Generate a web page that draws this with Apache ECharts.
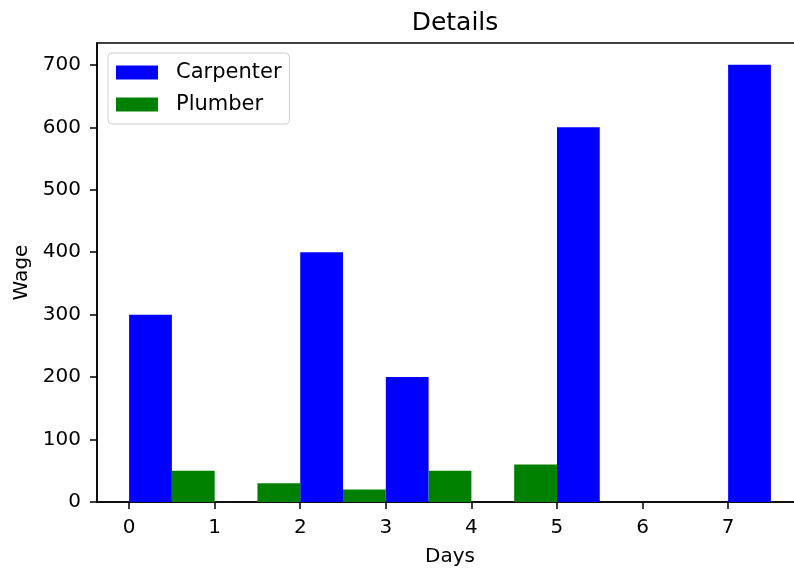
<!DOCTYPE html>
<html>
<head>
<meta charset="utf-8">
<script src="https://cdn.jsdelivr.net/npm/echarts@6/dist/echarts.min.js"></script>
<style>html,body{margin:0;padding:0;background:#fff;}#c{width:794px;height:568px;}</style>
</head>
<body>
<div id="c"></div>
<script>
// Data
const carpenterDays = [0, 2, 3, 5, 7];
const carpenterWage = [300, 400, 200, 600, 700];
const plumberDays = [0.5, 1.5, 2.5, 3.5, 4.5];
const plumberWage = [50, 30, 20, 50, 60];
const xTicks = [0, 1, 2, 3, 4, 5, 6, 7];
const yTicks = [0, 100, 200, 300, 400, 500, 600, 700];

const BAR_W = 0.5;
const FONT = 'DejaVu Sans';

function makeRender(color) {
  return function (params, api) {
    const x = api.value(0), y = api.value(1);
    const p0 = api.coord([x, y]);
    const p1 = api.coord([x + BAR_W, 0]);
    return {
      type: 'rect',
      shape: { x: p0[0], y: p0[1], width: p1[0] - p0[0], height: p1[1] - p0[1] },
      style: { fill: color }
    };
  };
}

const chart = echarts.init(document.getElementById('c'));
chart.setOption({
  animation: false,
  backgroundColor: '#fff',
  title: {
    text: 'Details',
    left: 450,
    textAlign: 'center',
    top: 6,
    textStyle: { fontFamily: FONT, fontSize: 25, fontWeight: 'normal', color: '#000' }
  },
  legend: {
    orient: 'vertical',
    left: 108,
    top: 53,
    padding: [9, 8, 9, 8],
    itemGap: 11,
    itemWidth: 42,
    itemHeight: 14,
    borderColor: '#d0d0d0',
    borderWidth: 1,
    borderRadius: 4,
    backgroundColor: 'rgba(255,255,255,0.8)',
    textStyle: { fontFamily: FONT, fontSize: 21, color: '#000', padding: [0, 0, 0, 13] },
    data: [{ name: 'Carpenter', icon: 'rect' }, { name: 'Plumber', icon: 'rect' }]
  },
  grid: {
    left: 97, top: 43, width: 706, height: 459,
    containLabel: false, outerBoundsMode: 'none',
    show: true, borderColor: '#000', borderWidth: 1.5, backgroundColor: 'transparent'
  },
  xAxis: {
    type: 'value',
    min: -0.375, max: 7.875,
    name: 'Days', nameLocation: 'middle', nameGap: 45,
    nameTextStyle: { fontFamily: FONT, fontSize: 20, color: '#000' },
    axisLine: { show: true, onZero: false, lineStyle: { color: '#000', width: 1.5 } },
    axisTick: { show: true, length: 7, lineStyle: { color: '#000', width: 1.5 }, customValues: xTicks },
    axisLabel: { fontFamily: FONT, fontSize: 20, color: '#000', margin: 16, customValues: xTicks },
    splitLine: { show: false }
  },
  yAxis: {
    type: 'value',
    min: 0, max: 735,
    name: 'Wage', nameLocation: 'middle', nameGap: 64,
    nameTextStyle: { fontFamily: FONT, fontSize: 20, color: '#000' },
    axisLine: { show: true, onZero: false, lineStyle: { color: '#000', width: 1.5 } },
    axisTick: { show: true, length: 7, lineStyle: { color: '#000', width: 1.5 }, customValues: yTicks },
    axisLabel: { fontFamily: FONT, fontSize: 20, color: '#000', margin: 16, customValues: yTicks },
    splitLine: { show: false }
  },
  series: [
    {
      name: 'Carpenter', type: 'custom',
      itemStyle: { color: '#0000ff' },
      renderItem: makeRender('#0000ff'),
      encode: { x: 0, y: 1 },
      data: carpenterDays.map((d, i) => [d, carpenterWage[i]])
    },
    {
      name: 'Plumber', type: 'custom',
      itemStyle: { color: '#008000' },
      renderItem: makeRender('#008000'),
      encode: { x: 0, y: 1 },
      data: plumberDays.map((d, i) => [d, plumberWage[i]])
    }
  ]
});
</script>
</body>
</html>
